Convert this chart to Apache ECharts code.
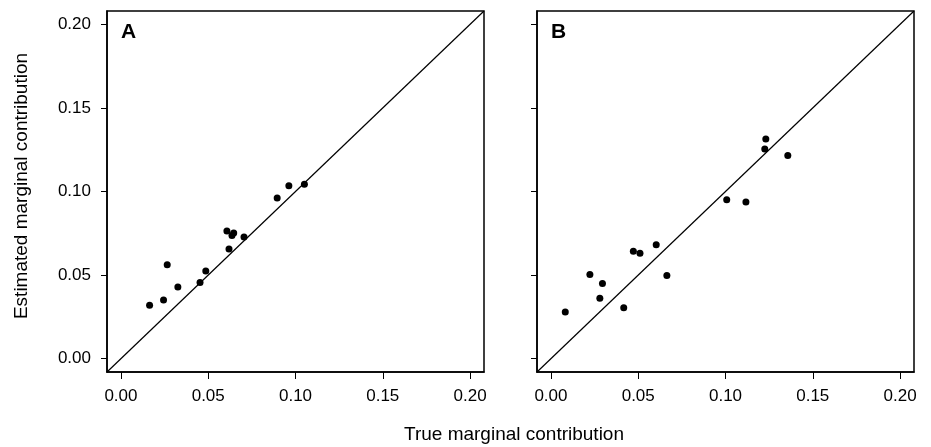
<!DOCTYPE html>
<html>
<head>
<meta charset="utf-8">
<script src="https://cdn.jsdelivr.net/npm/echarts@6/dist/echarts.min.js"></script>
<style>
html,body{margin:0;padding:0;background:#fff;}
#chart{width:931px;height:447px;}
</style>
</head>
<body>
<div id="chart"></div>
<script>
// Tick values / labels
const tickValues = [0, 0.05, 0.10, 0.15, 0.20];
const panelNames = ['A', 'B'];
const xTitle = 'True marginal contribution';
const yTitle = 'Estimated marginal contribution';

// Panel A
const aTrue = [0.0164, 0.0244, 0.0265, 0.0326, 0.0453, 0.0486, 0.0607, 0.0619, 0.0636, 0.0646, 0.0705, 0.0895, 0.0962, 0.1051];
const aEst  = [0.0319, 0.0351, 0.0562, 0.0428, 0.0456, 0.0524, 0.0763, 0.0656, 0.0736, 0.0751, 0.0728, 0.0961, 0.1035, 0.1043];

// Panel B
const bTrue = [0.0082, 0.0223, 0.0295, 0.0280, 0.0417, 0.0472, 0.0510, 0.0603, 0.0664, 0.1007, 0.1117, 0.1225, 0.1231, 0.1357];
const bEst  = [0.0279, 0.0503, 0.0449, 0.0361, 0.0305, 0.0642, 0.0630, 0.0682, 0.0497, 0.0951, 0.0937, 0.1254, 0.1314, 0.1216];

// Axis limits (R-style 4% extension of 0..0.2)
const axisMin = -0.008, axisMax = 0.208;

const FONT = '"Liberation Sans", Arial, Helvetica, sans-serif';
const chart = echarts.init(document.getElementById('chart'), null, {renderer: 'canvas'});

const grids = [
  {left: 107, top: 11, width: 377, height: 361},
  {left: 537, top: 11, width: 377, height: 361}
];

function xAx(i) {
  return {
    gridIndex: i, type: 'value', min: axisMin, max: axisMax,
    axisLine: {show: true, onZero: false, lineStyle: {color: '#000', width: 1.5}},
    axisTick: {show: true, length: 7, customValues: tickValues, lineStyle: {color: '#000', width: 1}},
    axisLabel: {show: true, customValues: tickValues, formatter: v => v.toFixed(2),
      margin: 16, fontSize: 17, color: '#000', fontFamily: FONT},
    splitLine: {show: false}
  };
}
function yAx(i, labels) {
  return {
    gridIndex: i, type: 'value', min: axisMin, max: axisMax,
    axisLine: {show: true, onZero: false, lineStyle: {color: '#000', width: 1.5}},
    axisTick: {show: true, length: 6, customValues: tickValues, lineStyle: {color: '#000', width: 1}},
    axisLabel: {show: labels, customValues: tickValues, formatter: v => v.toFixed(2),
      margin: 16, fontSize: 17, color: '#000', fontFamily: FONT},
    splitLine: {show: false}
  };
}

function diag(i) {
  return {
    type: 'line', xAxisIndex: i, yAxisIndex: i,
    data: [[axisMin, axisMin], [axisMax, axisMax]],
    showSymbol: false, silent: true, animation: false,
    lineStyle: {color: '#000', width: 1.2}, z: 1
  };
}
function pts(i, xs, ys) {
  return {
    type: 'scatter', xAxisIndex: i, yAxisIndex: i,
    data: xs.map((x, k) => [x, ys[k]]),
    symbolSize: 7, itemStyle: {color: '#000', opacity: 1}, animation: false, z: 3
  };
}

chart.setOption({
  animation: false,
  backgroundColor: '#fff',
  grid: grids.map(g => Object.assign({show: true, borderColor: '#000', borderWidth: 1.5, backgroundColor: 'transparent'}, g)),
  xAxis: [xAx(0), xAx(1)],
  yAxis: [yAx(0, true), yAx(1, false)],
  series: [diag(0), pts(0, aTrue, aEst), diag(1), pts(1, bTrue, bEst)],
  graphic: [
    {type: 'text', left: 121, top: 22, style: {text: panelNames[0], font: 'bold 21px ' + FONT, fill: '#000'}},
    {type: 'text', left: 551, top: 22, style: {text: panelNames[1], font: 'bold 21px ' + FONT, fill: '#000'}},
    {type: 'text', x: 514, y: 435, style: {text: xTitle, font: '19px ' + FONT, fill: '#000', align: 'center', verticalAlign: 'middle'}},
    {type: 'text', x: 22, y: 186, rotation: Math.PI / 2, style: {text: yTitle, font: '19px ' + FONT, fill: '#000', align: 'center', verticalAlign: 'middle'}}
  ]
});
</script>
</body>
</html>
